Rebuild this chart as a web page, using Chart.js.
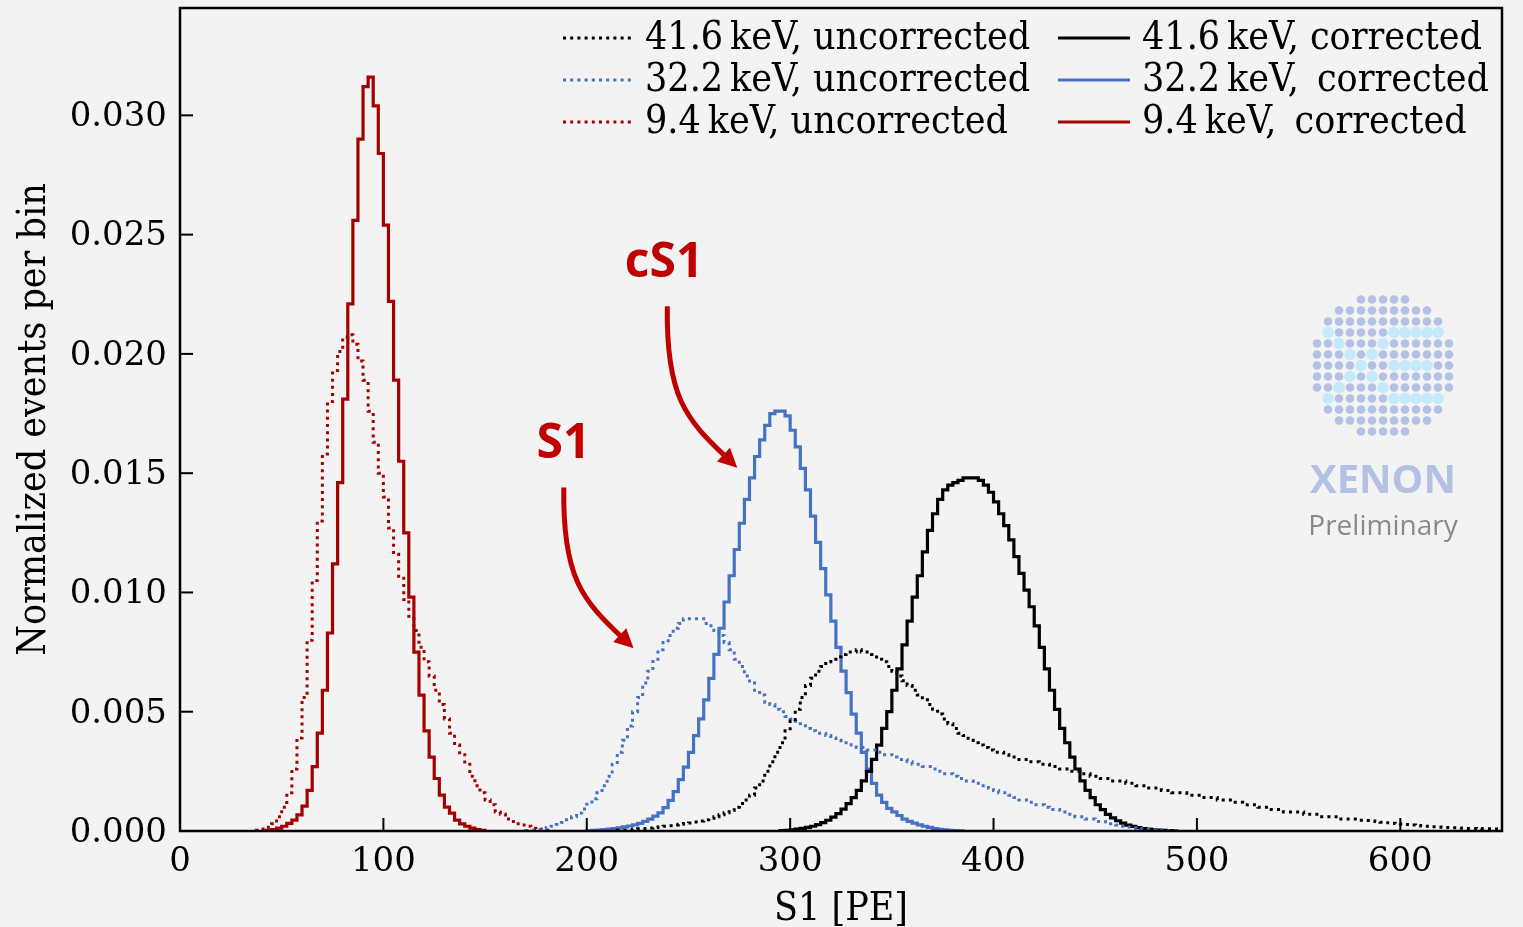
<!DOCTYPE html>
<html><head><meta charset="utf-8">
<script src="https://cdn.jsdelivr.net/npm/chart.js@4/dist/chart.umd.min.js"></script>
<style>html,body{margin:0;padding:0;background:#f3f3f3;overflow:hidden}</style>
</head><body>
<canvas id="c" width="1523" height="927"></canvas>
<script>
// ---------------- data ----------------
const binWidth = 2.5;               // PE per histogram bin
const xTicks = [0, 100, 200, 300, 400, 500, 600];
const yTicks = [0, 0.005, 0.010, 0.015, 0.020, 0.025, 0.030];
const xRange = [0, 650];
const yRange = [0, 0.0345];

// 9.4 keV, uncorrected (first bin starts at 37.5 PE)
const red94UncStart = 37.5;
const red94Unc = [0.00003,0.00008,0.00016,0.0003,0.0006,0.0010,0.0016,0.0026,0.0039,0.0056,
  0.0080,0.0105,0.0130,0.0158,0.0180,0.0193,0.0201,0.0207,0.0208,0.0204,
  0.0197,0.0189,0.0176,0.0163,0.0150,0.0140,0.0127,0.0116,0.0106,0.0097,
  0.0090,0.0084,0.0077,0.0071,0.0065,0.0059,0.0053,0.0047,0.0041,0.0036,
  0.0032,0.0028,0.0023,0.0019,0.0016,0.0013,0.0011,0.0008,0.0007,0.0005,
  0.0004,0.0003,0.00025,0.0002,0.00012,0.00008,0.00005,0.00003];

// 9.4 keV, corrected
const red94CorStart = 42.5;
const red94Cor = [0.00003,0.00006,0.00012,0.0002,0.00032,0.00046,0.00068,0.00104,0.0017,0.0027,
  0.0041,0.0059,0.0083,0.0112,0.0146,0.0181,0.0221,0.0256,0.0290,0.0312,
  0.0316,0.0304,0.0284,0.0254,0.0222,0.0189,0.0155,0.0125,0.0098,0.0075,
  0.0057,0.0042,0.0031,0.0022,0.0015,0.0010,0.00075,0.00046,0.0003,0.0002,
  0.00012,0.00006,0.00003];

// 32.2 keV, uncorrected
const blue322UncStart = 170;
const blue322Unc = [0.00002,0.00004,0.00006,0.0001,0.00014,0.0002,0.00027,0.00036,0.00047,0.0006,
  0.00075,0.00092,0.00112,0.00135,0.0016,0.0019,0.0023,0.0028,0.0033,0.0038,
  0.0044,0.0050,0.0056,0.0062,0.0067,0.0072,0.0076,0.0079,0.0082,0.0085,
  0.0087,0.0089,0.0089,0.0089,0.0089,0.0087,0.0086,0.0084,0.0082,0.0079,
  0.0076,0.0072,0.0069,0.0065,0.0062,0.0059,0.0057,0.0054,0.0053,0.0051,
  0.0050,0.0048,0.0047,0.0046,0.0045,0.0043,0.0042,0.0041,0.0041,0.0040,
  0.0039,0.0038,0.0037,0.0037,0.0036,0.0035,0.0035,0.0034,0.0034,0.0033,
  0.0032,0.0032,0.0031,0.0030,0.0030,0.0029,0.0028,0.0028,0.0027,0.0027,
  0.0026,0.0025,0.0024,0.0024,0.0023,0.0022,0.0021,0.0021,0.0020,0.0019,
  0.0019,0.0018,0.0017,0.0016,0.0016,0.0015,0.0014,0.0013,0.0013,0.0012,
  0.0011,0.0011,0.0010,0.0009,0.0009,0.0008,0.0008,0.0007,0.0006,0.0006,
  0.0005,0.0005,0.0004,0.0004,0.0003,0.0003,0.00025,0.0002,0.00017,0.00014,
  0.00011,0.00009,0.00007,0.00005,0.00004,0.00003,0.00002,0.00001];

// 32.2 keV, corrected
const blue322CorStart = 200;
const blue322Cor = [0.00002,0.00003,0.00004,0.00006,0.00008,0.0001,0.00013,0.00017,0.00021,0.00026,
  0.00032,0.0004,0.0005,0.00062,0.00076,0.00098,0.00128,0.00165,0.00215,0.00268,
  0.0033,0.0040,0.0047,0.0055,0.0064,0.0074,0.0085,0.0096,0.0107,0.0118,
  0.0129,0.0139,0.0148,0.0157,0.0164,0.0170,0.0175,0.0176,0.0176,0.0174,
  0.0168,0.0161,0.0152,0.0143,0.0132,0.0121,0.0110,0.0099,0.0088,0.0077,
  0.0067,0.0058,0.0049,0.0041,0.0033,0.0026,0.0020,0.0015,0.0012,0.00095,
  0.0008,0.00065,0.0005,0.0004,0.00033,0.00026,0.0002,0.00015,0.0001,0.00007,
  0.00005,0.00003,0.00002,0.00001];

// 41.6 keV, uncorrected
const black416UncStart = 215;
const black416Unc = [0.00003,0.00004,0.00005,0.00007,0.00009,0.00011,0.00013,0.00015,0.00017,0.0002,
  0.00022,0.00025,0.00028,0.00031,0.00034,0.00038,0.00042,0.00047,0.00053,0.0006,
  0.00068,0.00077,0.00087,0.001,0.00115,0.0013,0.0015,0.0018,0.0021,0.0025,
  0.0029,0.0033,0.0037,0.0042,0.0046,0.0051,0.0056,0.0061,0.0064,0.0067,
  0.0069,0.0071,0.0072,0.0073,0.0074,0.0075,0.0075,0.0076,0.0075,0.0075,
  0.0074,0.0072,0.0071,0.0069,0.0067,0.0065,0.0063,0.0061,0.0059,0.0057,
  0.0055,0.0053,0.0051,0.0049,0.0047,0.0045,0.0043,0.0041,0.0040,0.0038,
  0.0037,0.0036,0.0035,0.0034,0.0033,0.0033,0.0032,0.0031,0.0031,0.0030,
  0.0030,0.0029,0.0029,0.0028,0.0028,0.0027,0.0027,0.0026,0.0026,0.0025,
  0.0025,0.0024,0.0024,0.0023,0.0023,0.0022,0.0022,0.0021,0.0021,0.0021,
  0.0020,0.0020,0.0019,0.0019,0.0018,0.0018,0.0018,0.0017,0.0017,0.0016,
  0.0016,0.0016,0.0015,0.0015,0.0015,0.0014,0.0014,0.0014,0.0013,0.0013,
  0.0013,0.0012,0.0012,0.0011,0.0011,0.0011,0.0010,0.0010,0.0009,0.0009,
  0.0009,0.0008,0.0008,0.0008,0.0008,0.0007,0.0007,0.0007,0.0006,0.0006,
  0.0006,0.0006,0.0005,0.0005,0.0005,0.0005,0.00045,0.00044,0.00042,0.0004,
  0.00037,0.00035,0.00033,0.00031,0.00029,0.00027,0.00025,0.00023,0.00021,0.0002,
  0.00018,0.00017,0.00016,0.00015,0.00014,0.00013,0.00012,0.00011,0.00011,0.0001,
  0.00009,0.00009,0.00008,0.00008,0.00007,0.00007];

// 41.6 keV, corrected
const black416CorStart = 295;
const black416Cor = [0.00002,0.00003,0.00005,0.00008,0.00011,0.00015,0.0002,0.00027,0.00035,0.00045,
  0.00058,0.00073,0.00092,0.00115,0.0014,0.0017,0.0021,0.0025,0.0030,0.0036,
  0.0043,0.0050,0.0059,0.0068,0.0078,0.0088,0.0098,0.0107,0.0117,0.0126,
  0.0133,0.0139,0.0143,0.0145,0.0146,0.0147,0.0148,0.0148,0.0148,0.0147,
  0.0145,0.0142,0.0138,0.0133,0.0128,0.0122,0.0115,0.0108,0.0101,0.0094,
  0.0086,0.0077,0.0068,0.0059,0.0051,0.0043,0.0037,0.0031,0.0026,0.0021,
  0.0017,0.0014,0.0011,0.0009,0.0007,0.00055,0.00043,0.00033,0.00025,0.00019,
  0.00014,0.0001,0.00008,0.00006,0.00004,0.00003,0.00002,0.00001];

const seriesLabels = ['41.6\u2009keV, uncorrected','32.2\u2009keV, uncorrected','9.4\u2009keV, uncorrected',
                      '41.6\u2009keV, corrected','32.2\u2009keV, \u2009corrected','9.4\u2009keV, \u2009corrected'];

// ---------------- styles ----------------
const BLACK = '#000000', BLUE = '#4472c4', RED = '#a50000', ANNO = '#c00000';
const SERIF = "'DejaVu Serif', serif";
const SERIF_C = "'DejaVu Serif Condensed', 'DejaVu Serif', serif";

function hist(start, vals){
  const pts = [{x:start, y:0}];
  vals.forEach((v,i)=>pts.push({x:start + i*binWidth, y:v}));
  pts.push({x:start + vals.length*binWidth, y:0});
  return pts;
}
function ds(label, start, vals, color, dotted){
  return {label, data: hist(start, vals), borderColor: color, backgroundColor: color,
    borderWidth: dotted ? 3 : 3.2, borderDash: dotted ? [3, 4.2] : [], stepped: true,
    pointRadius: 0, fill: false, tension: 0, borderCapStyle: 'butt', borderJoinStyle: 'miter'};
}

const datasets = [
  ds(seriesLabels[0], black416UncStart, black416Unc, BLACK, true),
  ds(seriesLabels[1], blue322UncStart, blue322Unc, BLUE, true),
  ds(seriesLabels[2], red94UncStart, red94Unc, RED, true),
  ds(seriesLabels[3], black416CorStart, black416Cor, BLACK, false),
  ds(seriesLabels[4], blue322CorStart, blue322Cor, BLUE, false),
  ds(seriesLabels[5], red94CorStart, red94Cor, RED, false)
];

const annotations = [
  {text:'cS1', x:238, y:0.0238, from:[239.6, 0.02200], to:[274.0, 0.01523]},
  {text:'S1',  x:188.5, y:0.0162, from:[188.7, 0.01440], to:[223.0, 0.00766]}
];

function drawArrow(ctx, x0, y0, x1, y1){
  const dx = x1-x0, dy = y1-y0;
  const c1 = [x0 - 0.02*dx, y0 + 0.56*dy];
  const c2 = [x0 + 0.27*dx, y0 + 0.70*dy];
  const ang = Math.atan2(y1-c2[1], x1-c2[0]);
  const hl = 19, hw = 9.5;
  const bx = x1 - hl*Math.cos(ang), by = y1 - hl*Math.sin(ang);
  ctx.beginPath(); ctx.moveTo(x0,y0); ctx.bezierCurveTo(c1[0],c1[1],c2[0],c2[1],bx+3*Math.cos(ang),by+3*Math.sin(ang)); ctx.stroke();
  ctx.beginPath(); ctx.moveTo(x1,y1);
  ctx.lineTo(bx - hw*Math.sin(ang), by + hw*Math.cos(ang));
  ctx.lineTo(bx + hw*Math.sin(ang), by - hw*Math.cos(ang));
  ctx.closePath(); ctx.fill();
}

const decor = {
  id: 'decor',
  beforeDraw(chart){
    const c = chart.ctx; c.save(); c.fillStyle = '#f3f3f3'; c.fillRect(0,0,chart.width,chart.height); c.restore();
  },
  afterDraw(chart){
    const c = chart.ctx, a = chart.chartArea, xs = chart.scales.x, ys = chart.scales.y;
    c.save();
    // inward ticks
    c.strokeStyle = '#000'; c.lineWidth = 2; c.setLineDash([]);
    xs.ticks.forEach(t=>{ const px = xs.getPixelForValue(t.value); if (px<=a.left+1||px>=a.right-1) return;
      c.beginPath(); c.moveTo(px, a.bottom); c.lineTo(px, a.bottom-13); c.stroke(); });
    ys.ticks.forEach(t=>{ const py = ys.getPixelForValue(t.value); if (py>=a.bottom-1||py<=a.top+1) return;
      c.beginPath(); c.moveTo(a.left, py); c.lineTo(a.left+13, py); c.stroke(); });
    // spines
    c.lineWidth = 2.5; c.strokeRect(a.left, a.top, a.right-a.left, a.bottom-a.top);

    // legend (two columns: uncorrected | corrected)
    const rows = [a.top+30, a.top+72, a.top+114];
    const cols = [{x0:563, x1:633, tx:645}, {x0:1058, x1:1130, tx:1142}];
    c.font = "39px " + SERIF_C; c.textBaseline = 'middle'; c.textAlign = 'left';
    chart.data.datasets.forEach((d,i)=>{
      const col = cols[Math.floor(i/3)], y = rows[i%3];
      c.strokeStyle = d.borderColor; c.lineWidth = d.borderWidth; c.setLineDash(d.borderDash);
      c.beginPath(); c.moveTo(col.x0, y); c.lineTo(col.x1, y); c.stroke();
      c.setLineDash([]); c.fillStyle = '#000'; c.fillText(d.label, col.tx, y+1);
    });

    // annotations
    c.fillStyle = ANNO; c.strokeStyle = ANNO; c.lineWidth = 5; c.lineCap = 'butt';
    c.font = "bold 48px 'Open Sans', 'DejaVu Sans', sans-serif"; c.textAlign = 'center'; c.textBaseline = 'middle';
    annotations.forEach(n=>{
      c.fillText(n.text, xs.getPixelForValue(n.x), ys.getPixelForValue(n.y));
      drawArrow(c, xs.getPixelForValue(n.from[0]), ys.getPixelForValue(n.from[1]),
                   xs.getPixelForValue(n.to[0]), ys.getPixelForValue(n.to[1]));
    });

    // XENON logo (decoration)
    const cx = 1383, cy = 365.5, sp = 11;
    const big = new Set(['3,1','3,7','4,2','4,6','5,3','5,5','6,4','7,3','7,5','8,2','8,6','9,1','9,7',
      '3,8','3,9','3,10','3,11','6,7','6,8','6,9','6,10','9,8','9,9','9,10','9,11']);
    for (let r=0;r<13;r++) for (let k=0;k<13;k++){
      const dr=r-6, dk=k-6; if (Math.sqrt(dr*dr+dk*dk) > 6.5) continue;
      const x = cx + dk*sp, y = cy + dr*sp, b = big.has(r+','+k);
      c.beginPath(); c.arc(x, y, b?5.8:4.3, 0, Math.PI*2);
      c.fillStyle = b ? '#c4e9fa' : '#b3c2e4'; c.fill();
    }
    c.textAlign = 'center'; c.textBaseline = 'alphabetic';
    c.fillStyle = '#b3c2e4'; c.font = "bold 40px 'Open Sans', 'DejaVu Sans', sans-serif";
    c.fillText('XENON', cx, 493);
    c.fillStyle = '#8a8a8a'; c.font = "28px 'Open Sans', 'DejaVu Sans', sans-serif";
    c.fillText('Preliminary', cx, 535);
    c.restore();
  }
};

new Chart(document.getElementById('c'), {
  type: 'line',
  data: { datasets },
  plugins: [decor],
  options: {
    responsive: false, animation: false, devicePixelRatio: 1,
    layout: { padding: { left: 0, right: 21, top: 8, bottom: 0 } },
    plugins: { legend: { display: false }, tooltip: { enabled: false } },
    scales: {
      x: {
        type: 'linear', min: xRange[0], max: xRange[1],
        afterFit(s){ s.height = 96; s.paddingLeft = 0; s.paddingRight = 0; },
        afterBuildTicks(s){ s.ticks = xTicks.map(v=>({value:v})); },
        grid: { display: false, drawTicks: false }, border: { display: false },
        ticks: { font: { family: SERIF, size: 34 }, color: '#000', padding: 11, maxRotation: 0, autoSkip: false,
                 callback: v => String(v) },
        title: { display: true, text: 'S1 [PE]', font: { family: SERIF_C, size: 39, lineHeight: 1.0 }, color: '#000', padding: { top: 0, bottom: -2 } }
      },
      y: {
        type: 'linear', min: yRange[0], max: yRange[1],
        afterFit(s){ s.width = 180; s.paddingTop = 0; s.paddingBottom = 0; },
        afterBuildTicks(s){ s.ticks = yTicks.map(v=>({value:v})); },
        grid: { display: false, drawTicks: false }, border: { display: false },
        ticks: { font: { family: SERIF, size: 34 }, color: '#000', padding: 13, autoSkip: false, labelOffset: 2,
                 callback: v => Number(v).toFixed(3) },
        title: { display: true, text: 'Normalized events per bin', font: { family: SERIF_C, size: 39, lineHeight: 1.0 }, color: '#000', padding: { top: 15, bottom: 0 } }
      }
    }
  }
});
</script>
</body></html>
